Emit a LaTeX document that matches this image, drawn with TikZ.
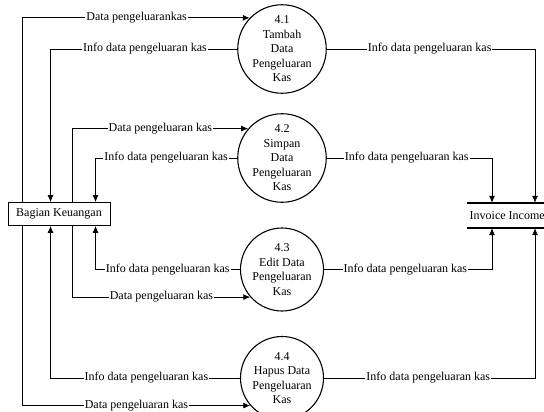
\documentclass[tikz,border=0pt]{standalone}
\usepackage{fontspec}
\setmainfont{Liberation Serif}
\usetikzlibrary{arrows.meta}
\begin{document}
\begin{tikzpicture}[x=1pt,y=-1pt,
  every node/.style={font=\fontsize{12}{14.5}\selectfont},
  proc/.style={circle,draw,line width=1.1pt,minimum size=83pt,inner sep=0pt,align=center},
  ent/.style={draw,line width=0.9pt,minimum width=102pt,minimum height=23pt,inner sep=0pt},
  store/.style={minimum height=25pt,inner xsep=2.5pt,inner ysep=0pt,anchor=west},
  storeline/.style={line width=2pt},
  flow/.style={line width=0.8pt},
  arr/.style={flow,-{Latex[length=7pt,width=6pt]}},
  lbl/.style={fill=white,inner xsep=1pt,inner ysep=1pt}]
\useasboundingbox (0,0) rectangle (544,412);

\node[proc] (p1) at (282,49) {4.1\\Tambah\\Data\\Pengeluaran\\Kas};
\node[proc] (p2) at (282,158) {4.2\\Simpan\\Data\\Pengeluaran\\Kas};
\node[proc] (p3) at (282,269.5) {4.3\\Edit Data\\Pengeluaran\\Kas};
\node[proc] (p4) at (282,378) {4.4\\Hapus Data\\Pengeluaran\\Kas};
\node[ent] (bk) at (59,214) {Bagian Keuangan};
\node[store] (inv) at (467,215.5) {Invoice Income};
\coordinate (invne) at ([xshift=100pt]inv.north west);
\coordinate (invse) at ([xshift=100pt]inv.south west);
\draw[storeline] (inv.north west) -- (invne);
\draw[storeline] (inv.south west) -- (invse);

% left side, above the box
\draw[arr] ([xshift=15pt]bk.north west) |- (p1.136)
  node[lbl,pos=0.751] (l1) {Data pengeluarankas};
\draw[arr] (p1.west) -| ([xshift=43pt]bk.north west)
  node[lbl,pos=0.247] (l2) {Info data pengeluaran kas};
\draw[arr] ([xshift=65pt]bk.north west) |- (p2.139)
  node[lbl,pos=0.75] (l3) {Data pengeluaran kas};
\draw[arr] (p2.west) -| ([xshift=88pt]bk.north west)
  node[lbl,pos=0.251] (l4) {Info data pengeluaran kas};
% left side, below the box
\draw[arr] (p3.west) -| ([xshift=88pt]bk.south west)
  node[lbl,pos=0.25] (l5) {Info data pengeluaran kas};
\draw[arr] ([xshift=65pt]bk.south west) |- (p3.221)
  node[lbl,pos=0.75] (l6) {Data pengeluaran kas};
\draw[arr] (p4.west) -| ([xshift=43pt]bk.south west)
  node[lbl,pos=0.247] (l7) {Info data pengeluaran kas};
\draw[arr] ([xshift=15pt]bk.south west) |- (p4.221)
  node[lbl,pos=0.75] (l8) {Data pengeluaran kas};

% right side
\draw[arr] (p1.east) -| ([xshift=68pt]inv.north west)
  node[lbl,pos=0.247] (r1) {Info data pengeluaran kas};
\draw[arr] (p2.east) -| ([xshift=25pt]inv.north west)
  node[lbl,pos=0.242] (r2) {Info data pengeluaran kas};
\draw[arr] (p3.east) -| ([xshift=25pt]inv.south west)
  node[lbl,pos=0.242] (r3) {Info data pengeluaran kas};
\draw[arr] (p4.east) -| ([xshift=68pt]inv.south west)
  node[lbl,pos=0.247] (r4) {Info data pengeluaran kas};
\end{tikzpicture}
\end{document}
